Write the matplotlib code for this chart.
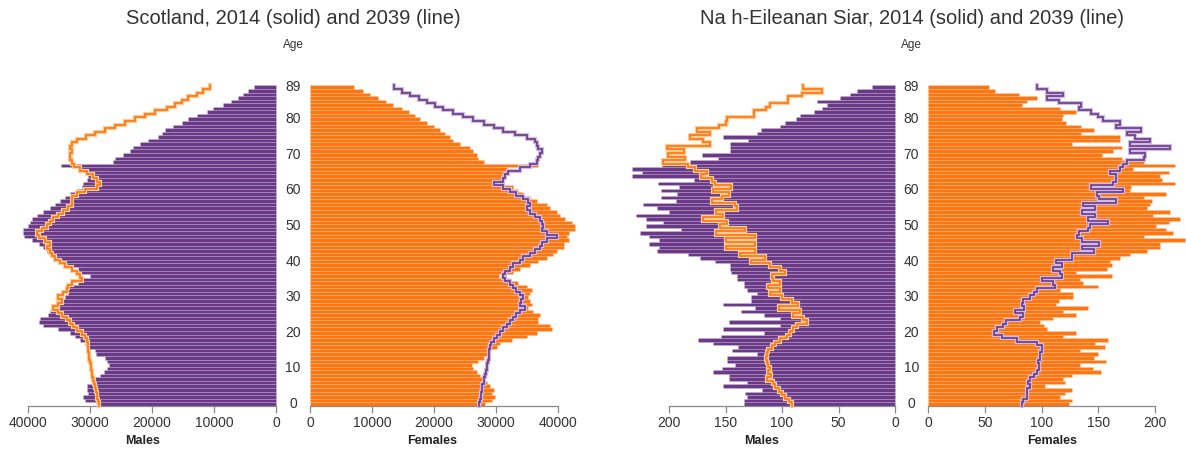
import matplotlib.pyplot as plt
import numpy as np
import matplotlib.patheffects as pe

plt.rcParams['font.family'] = ['Liberation Sans', 'DejaVu Sans']

ages = np.arange(0, 90)

# Scotland, ages 0..89
sco_m_2014 = [28.5, 30.8, 31.1, 30.3, 30.5, 30.5, 29.2, 29.2, 28.4, 27.8,
              27.2, 27.0, 27.2, 27.6, 29.0, 29.2, 30.4, 30.8, 31.6, 32.4,
              33.2, 35.1, 37.5, 38.3, 38.0, 36.7, 36.4, 35.6, 35.1, 34.8,
              34.0, 33.5, 33.8, 33.5, 31.9, 31.1, 30.0, 31.6, 31.9, 33.7,
              34.5, 35.6, 36.1, 37.0, 37.5, 38.3, 39.4, 40.6, 40.8, 40.8,
              40.0, 39.7, 39.4, 38.6, 37.5, 36.5, 35.6, 34.8, 34.0, 33.2,
              32.1, 31.3, 31.1, 30.5, 30.3, 30.5, 31.9, 34.6, 26.3, 26.0,
              24.6, 23.5, 23.0, 21.9, 20.6, 19.0, 18.4, 17.9, 16.6, 15.2,
              14.2, 12.8, 11.2, 10.1, 8.5, 7.2, 6.1, 5.3, 4.5, 3.5]
sco_m_2039 = [28.5, 28.7, 28.8, 28.9, 29.0, 29.2, 29.4, 29.5, 29.6, 29.7,
              29.8, 29.9, 30.0, 30.1, 30.2, 30.3, 30.3, 30.3, 30.5, 30.8,
              31.3, 32.1, 32.7, 33.2, 33.7, 34.5, 35.1, 35.9, 35.1, 34.5,
              35.1, 34.3, 33.7, 33.5, 32.9, 31.3, 31.6, 32.1, 32.9, 34.0,
              34.8, 35.6, 36.1, 36.5, 37.0, 36.5, 37.3, 38.3, 38.6, 37.8,
              37.0, 36.4, 35.9, 35.1, 34.3, 33.5, 32.9, 32.9, 32.9, 32.1,
              30.8, 28.9, 28.4, 28.9, 29.5, 30.5, 31.6, 32.6, 32.9, 33.2,
              33.2, 32.9, 33.3, 32.9, 32.1, 30.6, 29.2, 27.6, 26.0, 24.4,
              22.7, 21.1, 19.5, 17.6, 16.3, 15.2, 14.2, 12.8, 11.7, 10.6]
sco_f_2014 = [28.2, 29.3, 29.8, 29.3, 29.6, 29.0, 28.5, 28.0, 27.4, 26.9,
              26.3, 26.1, 27.1, 28.0, 28.5, 29.0, 30.1, 30.6, 32.5, 35.0,
              36.6, 39.0, 38.7, 36.8, 36.8, 37.1, 36.0, 35.2, 35.8, 35.5,
              35.2, 35.5, 35.8, 35.0, 33.6, 32.3, 30.5, 32.8, 33.9, 35.5,
              36.8, 38.2, 39.2, 39.8, 40.9, 40.9, 41.7, 41.4, 41.7, 42.7,
              42.7, 42.2, 41.1, 40.3, 39.8, 38.7, 38.2, 36.6, 35.5, 34.4,
              33.6, 32.8, 30.1, 30.9, 30.9, 31.2, 31.7, 36.8, 28.0, 27.1,
              26.9, 26.3, 25.8, 24.2, 23.1, 22.6, 21.8, 21.0, 20.0, 18.8,
              17.7, 16.9, 15.9, 14.8, 13.4, 12.3, 10.9, 9.7, 8.6, 7.1]
sco_f_2039 = [27.3, 27.4, 27.5, 27.6, 27.7, 27.8, 28.0, 28.0, 28.2, 28.4,
              28.5, 28.6, 28.7, 28.8, 28.8, 28.9, 29.0, 29.2, 29.6, 30.1,
              30.6, 31.2, 31.7, 32.3, 32.8, 33.3, 33.9, 34.7, 33.9, 34.1,
              34.4, 33.9, 33.3, 32.8, 32.3, 31.5, 31.2, 31.5, 32.3, 32.8,
              33.9, 34.4, 35.5, 36.3, 37.1, 37.4, 38.2, 39.8, 38.2, 37.4,
              37.6, 37.4, 37.1, 36.3, 35.5, 35.0, 35.5, 35.2, 34.4, 33.3,
              32.3, 31.2, 29.7, 31.2, 31.5, 32.0, 33.9, 35.5, 36.6, 36.8,
              37.1, 37.4, 36.8, 36.6, 36.3, 35.0, 33.1, 31.2, 29.6, 28.0,
              26.3, 24.7, 23.1, 21.5, 20.2, 18.8, 17.5, 16.1, 14.8, 13.5]

# Na h-Eileanan Siar, ages 0..89
nes_m_2014 = [134, 134, 131, 133, 118, 152, 131, 147, 147, 161,
              153, 142, 149, 149, 122, 144, 139, 161, 174, 154,
              116, 152, 102, 147, 102, 116, 136, 124, 152, 127,
              127, 122, 131, 134, 134, 140, 140, 145, 146, 146,
              159, 173, 183, 211, 209, 218, 209, 218, 226, 189,
              220, 205, 220, 229, 200, 211, 223, 194, 207, 193,
              207, 191, 210, 178, 233, 224, 233, 206, 181, 157,
              171, 146, 146, 146, 130, 152, 122, 119, 102, 97,
              88, 84, 72, 65, 60, 69, 49, 40, 34, 20]
nes_m_2039 = [91, 94, 97, 100, 103, 106, 108, 113, 110, 112,
              111, 112, 113, 114, 113, 112, 109, 106, 102, 96,
              93, 90, 87, 78, 81, 90, 84, 103, 86, 91,
              100, 111, 102, 112, 102, 108, 109, 97, 102, 111,
              127, 115, 137, 124, 150, 124, 150, 124, 158, 133,
              155, 149, 170, 152, 158, 140, 142, 162, 153, 147,
              161, 145, 159, 162, 172, 166, 177, 183, 205, 186,
              201, 187, 202, 164, 170, 181, 164, 175, 156, 150,
              149, 125, 125, 114, 111, 95, 95, 82, 65, 81]
nes_f_2014 = [124, 127, 116, 121, 127, 103, 121, 119, 127, 152,
              145, 134, 157, 146, 150, 134, 156, 147, 159, 119,
              130, 105, 102, 99, 110, 130, 119, 141, 113, 115,
              128, 128, 116, 150, 137, 134, 162, 130, 158, 162,
              160, 169, 178, 193, 204, 204, 226, 190, 216, 210,
              201, 212, 222, 198, 213, 193, 196, 197, 190, 210,
              178, 179, 218, 206, 204, 212, 181, 218, 190, 171,
              153, 163, 171, 127, 169, 169, 135, 146, 135, 122,
              118, 119, 130, 116, 83, 87, 96, 80, 59, 54]
nes_f_2039 = [83, 84, 87, 87, 87, 90, 88, 90, 93, 96,
              98, 98, 97, 99, 99, 100, 100, 96, 78, 65,
              58, 61, 66, 69, 81, 84, 77, 85, 83, 84,
              90, 93, 96, 112, 110, 100, 118, 116, 110, 118,
              113, 127, 127, 146, 136, 151, 136, 131, 133, 141,
              143, 159, 141, 147, 136, 147, 137, 166, 151, 149,
              172, 144, 163, 166, 166, 160, 169, 172, 175, 190,
              191, 178, 213, 178, 196, 182, 175, 188, 166, 169,
              154, 150, 144, 133, 135, 115, 105, 119, 105, 96]

titles = ["Scotland, 2014 (solid) and 2039 (line)",
          "Na h-Eileanan Siar, 2014 (solid) and 2039 (line)"]
age_ticks = [0, 10, 20, 30, 40, 50, 60, 70, 80, 89]
sco_ticks = [0, 10000, 20000, 30000, 40000]
nes_ticks = [0, 50, 100, 150, 200]

purple = '#6a3a88'
orange = '#ff7510'
purple_light = '#cdbbe4'
orange_light = '#ffcd98'
text_col = '#333333'
axis_col = '#8a8a8a'

W, H = 1186, 453
fig = plt.figure(figsize=(W / 100, H / 100), dpi=100)

top_px, bot_px = 85.4, 405.8


def make_ax(left_px, right_px):
    ax = fig.add_axes([left_px / W, 1 - bot_px / H,
                       (right_px - left_px) / W, (bot_px - top_px) / H])
    for s in ['left', 'right', 'top']:
        ax.spines[s].set_visible(False)
    ax.spines['bottom'].set_color(axis_col)
    ax.spines['bottom'].set_linewidth(0.9)
    ax.set_ylim(-0.5, 89.5)
    ax.set_yticks([])
    ax.tick_params(axis='x', colors=axis_col, labelcolor=text_col,
                   length=5, width=0.9, labelsize=10, pad=2)
    ax.patch.set_alpha(0)
    return ax


def step_line(ax, vals, color, halo):
    v = np.repeat(np.asarray(vals, dtype=float), 2)
    y = np.column_stack([ages - 0.5, ages + 0.5]).ravel()
    ax.plot(v, y, color=color, lw=1.2, clip_on=False, zorder=3,
            solid_joinstyle='miter',
            path_effects=[pe.Stroke(linewidth=3.0, foreground=halo),
                          pe.Normal()])


def panel(x0, x1, x2, x3, m14, m39, f14, f39, scale, xmax, ticks, title,
          mlab_x, flab_x):
    axm = make_ax(x0, x1)
    axf = make_ax(x2, x3)
    axm.barh(ages, np.asarray(m14) * scale, height=1, color=purple,
             edgecolor=(1, 1, 1, 0.22), linewidth=0.4, clip_on=False)
    axf.barh(ages, np.asarray(f14) * scale, height=1, color=orange,
             edgecolor=(1, 1, 1, 0.22), linewidth=0.4, clip_on=False)
    step_line(axm, np.asarray(m39) * scale, orange, orange_light)
    step_line(axf, np.asarray(f39) * scale, purple, purple_light)
    axm.set_xlim(xmax, 0)
    axf.set_xlim(0, xmax)
    axm.set_xticks(ticks)
    axf.set_xticks(ticks)
    fig.text(mlab_x / W, 1 - 441 / H, 'Males', ha='center', va='center',
             fontsize=9, fontweight='bold', color='#222222')
    fig.text(flab_x / W, 1 - 441 / H, 'Females', ha='center', va='center',
             fontsize=9, fontweight='bold', color='#222222')
    cx = (x1 + x2) / 2 / W
    for a in age_ticks:
        yp = 404 - a * 3.56
        fig.text(cx, 1 - yp / H, str(a), ha='center', va='center',
                 fontsize=10, color=text_col)
    fig.text(cx, 1 - 19 / H, title, ha='center', va='center',
             fontsize=14.5, color=text_col)
    fig.text(cx, 1 - 45 / H, 'Age', ha='center', va='center',
             fontsize=8.5, color=text_col)


panel(28, 276, 310, 558, sco_m_2014, sco_m_2039, sco_f_2014, sco_f_2039,
      1000, 40000, sco_ticks, titles[0], 143, 432)
panel(669, 895, 928, 1155, nes_m_2014, nes_m_2039, nes_f_2014, nes_f_2039,
      1, 200, nes_ticks, titles[1], 762, 1052)

fig.savefig('out.png', dpi=100)
